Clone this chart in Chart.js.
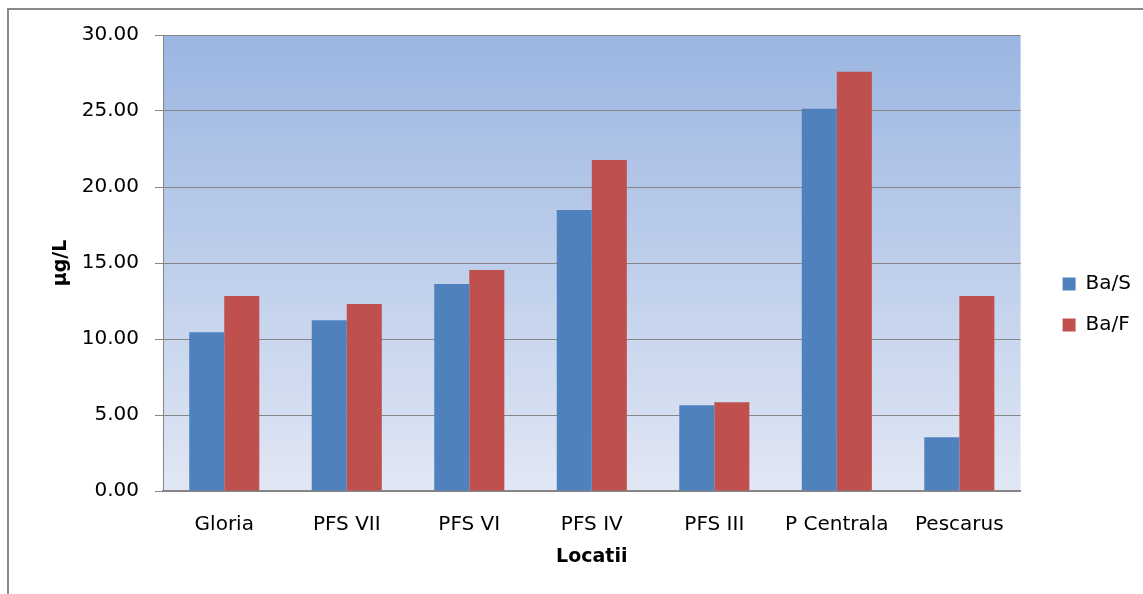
<!DOCTYPE html>
<html>
<head>
<meta charset="utf-8">
<script src="https://cdn.jsdelivr.net/npm/chart.js@4"></script>
<style>
  html, body { margin: 0; padding: 0; background: #fff; }
  #wrap { position: relative; width: 1143px; height: 594px; overflow: hidden; }
  #frame { position: absolute; left: 7px; top: 8px; width: 1200px; height: 700px; border: 2px solid #8a8a8a; box-sizing: border-box; }
  canvas { position: absolute; left: 0; top: 0; }
</style>
</head>
<body>
<div id="wrap">
  <div id="frame"></div>
  <canvas id="chart" width="1143" height="594"></canvas>
</div>
<script>
const locatii = ['Gloria', 'PFS VII', 'PFS VI', 'PFS IV', 'PFS III', 'P Centrala', 'Pescarus'];
const baS = [10.45, 11.24, 13.62, 18.49, 5.64, 25.14, 3.54];
const baF = [12.83, 12.30, 14.54, 21.78, 5.84, 27.58, 12.83];
const yTicks = [0, 5, 10, 15, 20, 25, 30];

const FONT = "'DejaVu Sans', sans-serif";

// fundal cu gradient pentru zona graficului
const plotBackground = {
  id: 'plotBackground',
  beforeDraw(chart) {
    const { ctx, chartArea: a } = chart;
    const g = ctx.createLinearGradient(0, a.top, 0, a.bottom);
    g.addColorStop(0, '#9bb6e2');
    g.addColorStop(1, '#e1e7f4');
    ctx.save();
    ctx.fillStyle = g;
    ctx.fillRect(a.left, a.top, a.right - a.left, a.bottom - a.top);
    ctx.restore();
  }
};

new Chart(document.getElementById('chart'), {
  type: 'bar',
  data: {
    labels: locatii,
    datasets: [
      { label: 'Ba/S', data: baS, backgroundColor: '#4f81bd', yAxisID: 'y' },
      { label: 'Ba/F', data: baF, backgroundColor: '#c0504d', yAxisID: 'y' }
    ]
  },
  options: {
    responsive: false,
    animation: false,
    devicePixelRatio: 1,
    layout: { padding: { top: 35, left: 0, right: 2, bottom: 20 } },
    datasets: { bar: { categoryPercentage: 0.572, barPercentage: 1 } },
    scales: {
      x: {
        grid: { display: false, drawTicks: false },
        border: { color: '#868686', width: 2 },
        ticks: { color: '#000', font: { family: FONT, size: 20 }, padding: 22, maxRotation: 0 },
        title: { display: true, text: 'Locatii', color: '#000', font: { family: FONT, size: 19, weight: 'bold' }, padding: { top: 0, bottom: 6 } },
        afterFit(s) { s.height = 83; }
      },
      y: {
        min: 0, max: 30,
        afterBuildTicks(s) { s.ticks = yTicks.map(v => ({ value: v })); },
        grid: { color: '#868686', tickLength: 8, drawTicks: true },
        border: { color: '#868686', width: 1 },
        ticks: { color: '#000', font: { family: FONT, size: 20 }, padding: 16, callback: v => v.toFixed(2) },
        title: { display: true, text: 'µg/L', color: '#000', font: { family: FONT, size: 19, weight: 'bold' }, padding: { top: 50, bottom: 0 } },
        afterFit(s) { s.width = 163; }
      },
      spacer: {
        type: 'linear',
        position: 'right',
        grid: { display: false, drawTicks: false },
        border: { display: false },
        ticks: { display: false },
        afterFit(s) { s.width = 21; }
      }
    },
    plugins: {
      legend: {
        position: 'right',
        labels: {
          color: '#000',
          font: { family: FONT, size: 20 },
          boxWidth: 13,
          boxHeight: 13,
          padding: 21
        }
      },
      tooltip: { enabled: false }
    }
  },
  plugins: [plotBackground]
});
</script>
</body>
</html>
